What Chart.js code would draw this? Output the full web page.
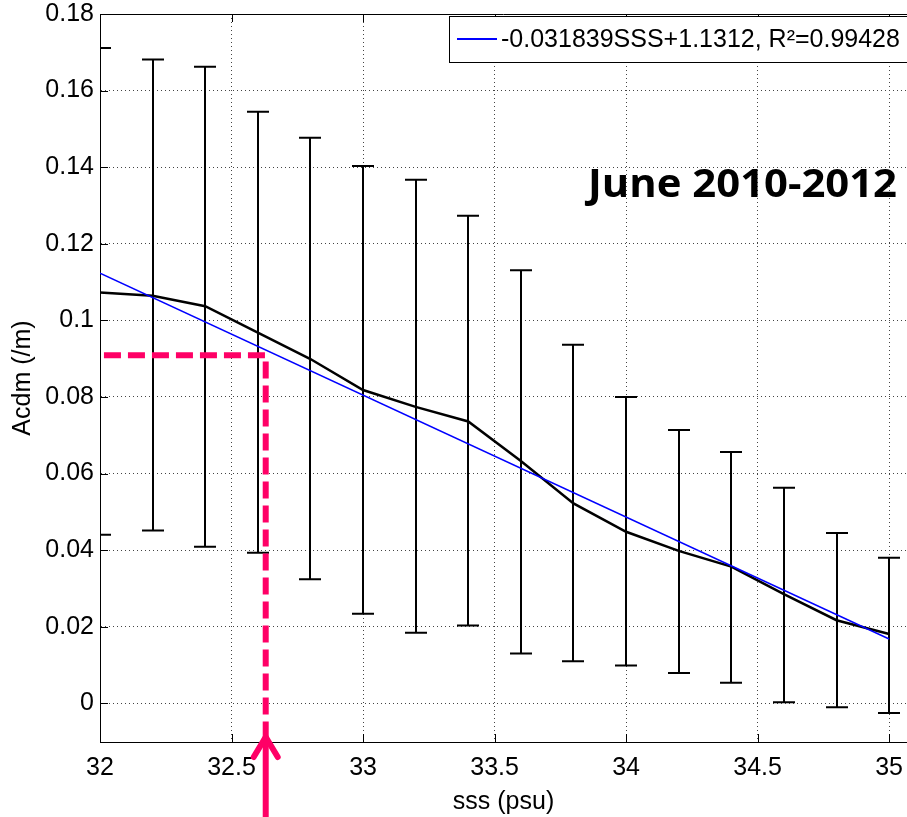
<!DOCTYPE html>
<html><head><meta charset="utf-8">
<script src="https://cdn.jsdelivr.net/npm/chart.js@4/dist/chart.umd.min.js"></script>
<style>html,body{margin:0;padding:0;background:#fff}canvas{display:block}</style>
</head><body>
<canvas id="c" width="907" height="817"></canvas>
<script>
// ---- data ----
const sss       = [32.0, 32.2, 32.4, 32.6, 32.8, 33.0, 33.2, 33.4, 33.6, 33.8, 34.0, 34.2, 34.4, 34.6, 34.8, 35.0];
const acdmMean  = [0.1073, 0.1064, 0.1037, 0.0968, 0.0899, 0.0818, 0.0774, 0.0736, 0.0633, 0.0522, 0.0448, 0.0398, 0.0357, 0.0285, 0.0217, 0.0181];
const acdmUpper = [0.1711, 0.1681, 0.1662, 0.1545, 0.1477, 0.1403, 0.1367, 0.1273, 0.1131, 0.0936, 0.0800, 0.0714, 0.0656, 0.0563, 0.0445, 0.0380];
const acdmLower = [0.0440, 0.0451, 0.0409, 0.0393, 0.0324, 0.0234, 0.0184, 0.0203, 0.0130, 0.0110, 0.0099, 0.0079, 0.0054, 0.0003, -0.0010, -0.0025];
const fitX = [32, 35];
const fitY = [0.1123, 0.0168];
const markX = [32.015, 32.63, 32.63];
const markY = [0.0909, 0.0909, -0.0101];
const xTicks = [32, 32.5, 33, 33.5, 34, 34.5, 35];
const yTicks = [0, 0.02, 0.04, 0.06, 0.08, 0.1, 0.12, 0.14, 0.16, 0.18];
const legendLabel = '-0.031839SSS+1.1312, R\u00B2=0.99428';
const panelLabel = 'June 2010-2012';
const xTitle = 'sss (psu)';
const yTitle = 'Acdm (/m)';

const toXY = (xs, ys) => xs.map((x, i) => ({x: x, y: ys[i]}));
const PINK = '#FF0066';
const FONT = '"Liberation Sans", Arial, sans-serif';

const decor = {
  id: 'decor',
  beforeDraw(chart) {
    const ctx = chart.ctx;
    ctx.save(); ctx.fillStyle = '#fff'; ctx.fillRect(0, 0, chart.width, chart.height); ctx.restore();
  },
  beforeDatasetsDraw(chart) {
    const {ctx, chartArea: a, scales: {x, y}} = chart;
    ctx.save();
    ctx.beginPath(); ctx.rect(a.left, a.top, a.right - a.left, a.bottom - a.top); ctx.clip();
    ctx.strokeStyle = '#000'; ctx.lineWidth = 2;
    sss.forEach((v, i) => {
      const px = Math.round(x.getPixelForValue(v));
      const pu = y.getPixelForValue(acdmUpper[i]);
      const pl = y.getPixelForValue(acdmLower[i]);
      ctx.beginPath();
      ctx.moveTo(px, pu); ctx.lineTo(px, pl);
      ctx.moveTo(px - 11, pu); ctx.lineTo(px + 11, pu);
      ctx.moveTo(px - 11, pl); ctx.lineTo(px + 11, pl);
      ctx.stroke();
    });
    ctx.restore();
  },
  afterDatasetsDraw(chart) {
    const {ctx, chartArea: a, scales: {x, y}} = chart;
    ctx.save();
    // inside tick marks
    ctx.strokeStyle = '#000'; ctx.lineWidth = 1;
    ctx.beginPath();
    x.ticks.forEach(t => {
      const px = Math.round(x.getPixelForValue(t.value)) + 0.5;
      ctx.moveTo(px, a.bottom); ctx.lineTo(px, a.bottom - 8);
      ctx.moveTo(px, a.top); ctx.lineTo(px, a.top + 8);
    });
    y.ticks.forEach(t => {
      const py = Math.round(y.getPixelForValue(t.value)) + 0.5;
      ctx.moveTo(a.left, py); ctx.lineTo(a.left + 8, py);
    });
    // top border
    ctx.moveTo(a.left, a.top + 0.5); ctx.lineTo(a.right, a.top + 0.5);
    ctx.stroke();

    // legend box
    ctx.fillStyle = '#fff';
    ctx.fillRect(449, 16, 470, 46);
    ctx.strokeStyle = '#000'; ctx.lineWidth = 1;
    ctx.strokeRect(449.5, 16.5, 470, 46);
    ctx.strokeStyle = '#0000FF'; ctx.lineWidth = 2;
    ctx.beginPath(); ctx.moveTo(457, 39); ctx.lineTo(497, 39); ctx.stroke();
    ctx.fillStyle = '#000';
    ctx.font = '25px ' + FONT;
    ctx.textBaseline = 'middle'; ctx.textAlign = 'left';
    ctx.fillText(legendLabel, 501, 40);

    // panel label
    ctx.font = 'bold 39px "Open Sans", sans-serif';
    const w = ctx.measureText(panelLabel).width;
    const target = 309;
    ctx.textBaseline = 'alphabetic';
    ctx.save();
    ctx.translate(897, 197);
    ctx.scale(target / w, 1);
    ctx.textAlign = 'right';
    ctx.fillText(panelLabel, 0, 0);
    ctx.restore();

    // arrow below the vertical marker
    const ax = x.getPixelForValue(markX[1]);
    const tip = a.bottom - 5;
    ctx.strokeStyle = PINK; ctx.lineWidth = 6; ctx.lineCap = 'butt';
    ctx.beginPath(); ctx.moveTo(ax, tip + 2); ctx.lineTo(ax, chart.height); ctx.stroke();
    ctx.lineCap = 'round';
    ctx.beginPath();
    ctx.moveTo(ax - 12, tip + 20); ctx.lineTo(ax, tip); ctx.lineTo(ax + 12, tip + 20);
    ctx.stroke();
    ctx.restore();
  }
};

new Chart(document.getElementById('c'), {
  type: 'line',
  data: {
    datasets: [
      { label: 'mean', data: toXY(sss, acdmMean), borderColor: '#000', borderWidth: 2.5, pointRadius: 0, tension: 0, order: 2 },
      { label: legendLabel, data: toXY(fitX, fitY), borderColor: '#0000FF', borderWidth: 1.5, pointRadius: 0, order: 1 },
      { label: 'marker', data: toXY(markX, markY), borderColor: PINK, borderWidth: 6, borderDash: [17, 7], borderCapStyle: 'butt', borderJoinStyle: 'miter', pointRadius: 0, order: 0 }
    ]
  },
  options: {
    responsive: false,
    animation: false,
    devicePixelRatio: 1,
    layout: { padding: { top: 14, right: 0, left: 0, bottom: 0 } },
    plugins: { legend: { display: false }, tooltip: { enabled: false } },
    scales: {
      x: {
        type: 'linear', min: 32, max: 35.068,
        afterBuildTicks: s => { s.ticks = xTicks.map(v => ({value: v})); },
        afterFit: s => { s.height = 75; s.paddingLeft = 0; s.paddingRight = 0; },
        ticks: { padding: 11, color: '#000', font: { family: FONT, size: 25 }, callback: v => String(+(+v).toFixed(3)), maxRotation: 0, autoSkip: false },
        grid: { color: '#444', lineWidth: 1, drawTicks: false },
        border: { color: '#000', width: 1, dash: [1, 3] },
        title: { display: true, text: xTitle, color: '#000', font: { family: FONT, size: 25 }, padding: { top: 0, bottom: 0 } }
      },
      y: {
        type: 'linear', min: -0.0101, max: 0.18,
        afterBuildTicks: s => { s.ticks = yTicks.map(v => ({value: v})); },
        afterFit: s => { s.width = 100; s.paddingTop = 0; s.paddingBottom = 0; },
        ticks: { padding: 6, color: '#000', font: { family: FONT, size: 25 }, callback: v => String(+(+v).toFixed(4)), autoSkip: false },
        grid: { color: '#444', lineWidth: 1, drawTicks: false },
        border: { color: '#000', width: 1, dash: [1, 3] },
        title: { display: true, text: yTitle, color: '#000', font: { family: FONT, size: 25 }, padding: { top: 8, bottom: 0 } }
      }
    }
  },
  plugins: [decor]
});
</script>
</body></html>
